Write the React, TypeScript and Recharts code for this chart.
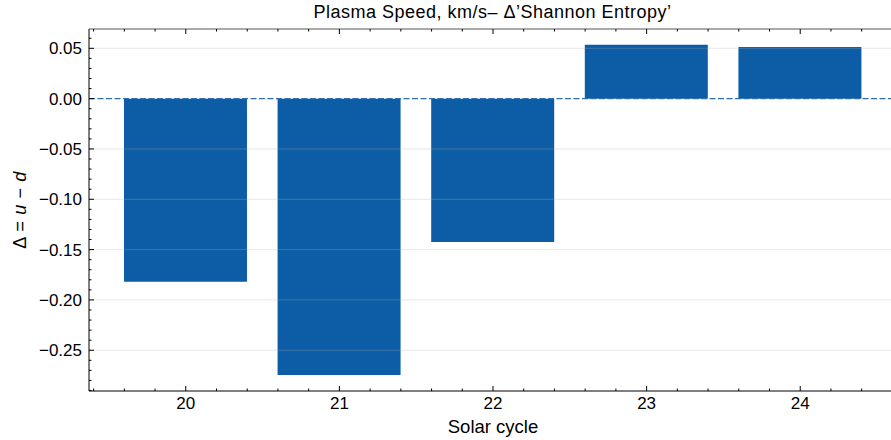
import React from 'react';
import { BarChart, Bar, XAxis, YAxis, ReferenceLine } from 'recharts';

// values
const cycles = [20, 21, 22, 23, 24];
const deltas = [-0.182, -0.2745, -0.1425, 0.0535, 0.0512];

const xTicks = [
  19.4, 19.6, 19.8, 20, 20.2, 20.4, 20.6, 20.8, 21, 21.2, 21.4, 21.6, 21.8,
  22, 22.2, 22.4, 22.6, 22.8, 23, 23.2, 23.4, 23.6, 23.8, 24, 24.2, 24.4, 24.6,
];
const yTicks = [
  0.06, 0.05, 0.04, 0.03, 0.02, 0.01, 0, -0.01, -0.02, -0.03, -0.04, -0.05,
  -0.06, -0.07, -0.08, -0.09, -0.1, -0.11, -0.12, -0.13, -0.14, -0.15, -0.16,
  -0.17, -0.18, -0.19, -0.2, -0.21, -0.22, -0.23, -0.24, -0.25, -0.26, -0.27,
  -0.28, -0.29,
];
const yGridLines = [0.05, -0.05, -0.1, -0.15, -0.2, -0.25];

const data = cycles.map((c, i) => ({ cycle: c, delta: deltas[i] }));

const FONT = '"Liberation Sans", Arial, Helvetica, sans-serif';
const BLUE = '#0C5DA5';

const isMajorX = (v: number) => Math.abs(v - Math.round(v)) < 1e-6;
const isMajorY = (v: number) => Math.abs(v * 20 - Math.round(v * 20)) < 1e-6;
const fmtY = (v: number) => (Math.abs(v) < 1e-9 ? '0.00' : v.toFixed(2).replace('-', '\u2212'));

const BottomTick = (props: any) => {
  const { x, y, payload } = props;
  const major = isMajorX(payload.value);
  return (
    <g>
      <line x1={x} x2={x} y1={y} y2={y - (major ? 5 : 2.5)} stroke="#000" strokeWidth={1} />
      {major && (
        <text x={x} y={y + 18} textAnchor="middle" fontSize={17} fontFamily={FONT} fill="#000">
          {Math.round(payload.value)}
        </text>
      )}
    </g>
  );
};

const TopTick = (props: any) => {
  const { x, y, payload } = props;
  const major = isMajorX(payload.value);
  return <line x1={x} x2={x} y1={y} y2={y + (major ? 5 : 2.5)} stroke="#000" strokeWidth={1} />;
};

const LeftTick = (props: any) => {
  const { x, y, payload } = props;
  const major = isMajorY(payload.value);
  return (
    <g>
      <line x1={x} x2={x + (major ? 5 : 2.5)} y1={y} y2={y} stroke="#000" strokeWidth={1} />
      {major && (
        <text x={x - 7} y={y + 6} textAnchor="end" fontSize={17} fontFamily={FONT} fill="#000">
          {fmtY(payload.value)}
        </text>
      )}
    </g>
  );
};

const XLabel = (props: any) => {
  const { viewBox } = props;
  return (
    <text x={viewBox.x + viewBox.width / 2} y={viewBox.y + 42} textAnchor="middle" fontSize={18.5} fontFamily={FONT} fill="#000">
      Solar cycle
    </text>
  );
};

const YLabel = (props: any) => {
  const { viewBox } = props;
  const cx = 20;
  const cy = viewBox.y + viewBox.height / 2;
  return (
    <text x={cx} y={cy} transform={`rotate(-90 ${cx} ${cy})`} textAnchor="middle" dominantBaseline="central" fontSize={18} letterSpacing={0.6} fontFamily={FONT} fill="#000">
      Δ = <tspan fontStyle="italic">u</tspan> − <tspan fontStyle="italic">d</tspan>
    </text>
  );
};

export default function App() {
  return (
    <div style={{ position: 'absolute', left: 0, top: 0, width: 891, height: 440, overflow: 'hidden', background: '#fff' }}>
      <div
        style={{
          position: 'absolute', left: 0, top: 0, width: 985, textAlign: 'center',
          fontFamily: FONT, fontSize: 18, letterSpacing: 0.5, lineHeight: '24px', color: '#000',
        }}
      >
        Plasma Speed, km/s– Δ’Shannon Entropy’
      </div>
      <BarChart width={897} height={440} data={data} margin={{ top: 28, right: 0, bottom: 0, left: 0 }}>
        <XAxis
          dataKey="cycle"
          type="number"
          domain={[19.37, 24.63]}
          ticks={xTicks}
          interval={0}
          allowDataOverflow
          height={49}
          tickSize={0}
          tickMargin={0}
          tickLine={false}
          tick={<BottomTick />}
          axisLine={{ stroke: '#000', strokeWidth: 1 }}
          label={<XLabel />}
        />
        <XAxis
          xAxisId="top"
          dataKey="cycle"
          type="number"
          orientation="top"
          domain={[19.37, 24.63]}
          ticks={xTicks}
          interval={0}
          allowDataOverflow
          height={1}
          tickSize={0}
          tickMargin={0}
          tickLine={false}
          tick={<TopTick />}
          axisLine={{ stroke: '#555', strokeWidth: 1 }}
        />
        <YAxis
          type="number"
          domain={[-0.2905, 0.0692]}
          ticks={yTicks}
          interval={0}
          allowDataOverflow
          width={89}
          tickSize={0}
          tickMargin={0}
          tickLine={false}
          tick={<LeftTick />}
          axisLine={{ stroke: '#000', strokeWidth: 1 }}
          label={<YLabel />}
        />
        <Bar dataKey="delta" fill={BLUE} barSize={123} isAnimationActive={false} />
        {yGridLines.map((v) => (
          <ReferenceLine key={v} y={v} stroke="#b0b0b0" strokeOpacity={0.3} strokeWidth={1} />
        ))}
        <ReferenceLine y={0} stroke="#2f6fb0" strokeDasharray="6 2.5" strokeWidth={1.2} />
      </BarChart>
    </div>
  );
}
